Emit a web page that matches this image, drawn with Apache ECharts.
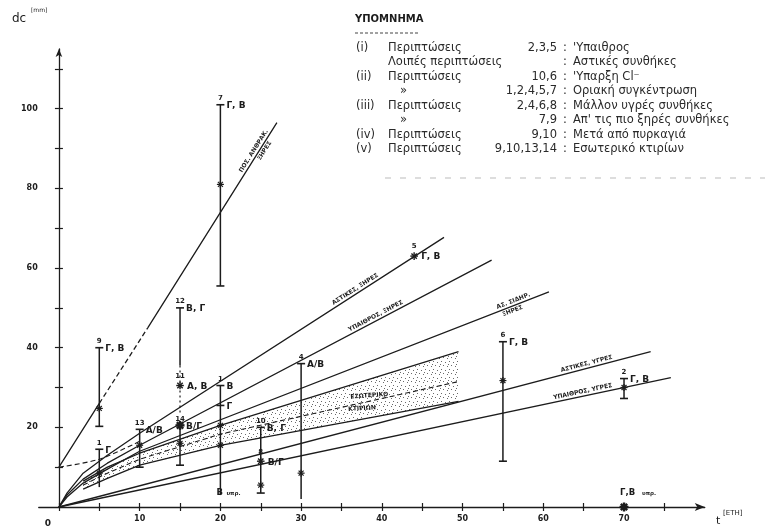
<!DOCTYPE html>
<html><head><meta charset="utf-8">
<script src="https://cdn.jsdelivr.net/npm/echarts@6/dist/echarts.min.js"></script>
<style>html,body{margin:0;padding:0;background:#fff}#c{width:769px;height:528px}</style>
</head><body><div id="c"></div>
<script>
// ---------- axis ticks ----------
const xTicks = [0,5,10,15,20,25,30,35,40,45,50,55,60,65,70,75];
const xTickLabels = [0,10,20,30,40,50,60,70];
const yTicks = [10,20,30,40,50,60,70,80,90,100,110];
const yTickLabels = [20,40,60,80,100];

// ---------- curves [t (years), dc] ----------
const lineSteep     = [[0,10],[5,26],[11,45],[27,96.5]];
const lineUrbanDry  = [[0,0],[1,3.5],[3,8.5],[6,13],[10,18.5],[47.7,67.7]];
const lineOpenDry   = [[0,0],[1,3],[3,7],[6,11],[10,15.5],[53.6,62]];
const lineSDry      = [[0,0],[1,2.5],[3,6],[6,9.5],[10,14],[60.7,54]];
const bandUpper     = [[3,6.5],[6,10],[10,13.5],[20,20.5],[49.5,39]];
const bandMid       = [[3,5.5],[6,8.5],[10,12],[20,18.3],[49.5,31.5]];
const bandLower     = [[3,4.5],[6,7.2],[10,10.5],[20,15.5],[49.5,26.5]];
const lineUrbanWet  = [[0,0],[73.3,39]];
const lineOpenWet   = [[0,0],[75.8,32.5]];
const lineShortDash = [[0,10],[5,12],[10,16.5]];

// ---------- measured cases: [no, t, low, high, capLow, capHigh, dashed, stars, tag] ----------
const cases = [
  ['9', 5, 20.25, 40, true, true, false, [24.75], 'Γ, Β'],
  ['1', 5, 5, 14.5, false, true, false, [8.5], 'Γ'],
  ['13', 10, 10, 19.5, true, true, false, [15.5], 'Α/Β'],
  ['12', 15, 35.5, 50, false, true, false, [], 'Β, Γ'],
  ['14', 15, 10.5, 20.5, true, false, false, [16], 'Β/Γ'],
  ['7', 20, 55.5, 101, true, true, false, [81], 'Γ, Β'],
  ['1', 20, 3, 30.5, false, true, false, [20.5, 15.5], 'Β'],
  ['10', 25, 3.5, 20, true, true, false, [5.5], 'Β, Γ'],
  ['4', 30, 2, 36, false, true, false, [8.5], 'Α/Β'],
  ['6', 55, 11.5, 41.5, true, true, false, [31.75], 'Γ, Β'],
  ['2', 70, 27.25, 32.25, true, true, false, [30], 'Γ, Β']
];
// single marked points: [no, t, dc, tag, bold]
const points = [
  ['5', 44, 63, 'Γ, Β', false],
  ['11', 15, 30.5, 'Α, Β', false],
  ['', 15, 20.5, '', true],
  ['8', 25, 11.5, 'Β/Γ', false],
  ['', 70, 0, '', true]
];
const dashedRanges = [[15, 23, 35.5]];          // [t, low, high]
const extraCaps = [[20, 25.5, 'Γ']];           // [t, dc, tag]
const notes = [[20, 3.5, 'Β υπρ.'], [70, 3.5, 'Γ,Β υπρ.']];

// ---------- line captions: [text, curve, t, side, flat] ----------
const lineLabels = [
  ['ΠΟΣ. ΑΝΘΡΑΚ.', 'steep', 24.6, 1, false],
  ['ΞΗΡΕΣ', 'steep', 25.0, -1, false],
  ['ΑΣΤΙΚΕΣ, ΞΗΡΕΣ', 'urbanDry', 37, 1, false],
  ['ΥΠΑΙΘΡΟΣ, ΞΗΡΕΣ', 'openDry', 39.5, 1, false],
  ['ΑΣ. ΣΙΔΗΡ.', 'sDry', 56.5, 1, false],
  ['ΞΗΡΕΣ', 'sDry', 56.0, -1, false],
  ['ΕΣΩΤΕΡΙΚΟ', 'bandMid', 38.5, 1, true],
  ['ΚΤΙΡΙΩΝ', 'bandMid', 37.5, -1, true],
  ['ΑΣΤΙΚΕΣ, ΥΓΡΕΣ', 'urbanWet', 65.5, 1, false],
  ['ΥΠΑΙΘΡΟΣ, ΥΓΡΕΣ', 'openWet', 65.0, 1, false]
];

// ---------- legend ----------
const legendTitle = 'ΥΠΟΜΝΗΜΑ';
const legendRoman = ['(i)', '', '(ii)', '', '(iii)', '', '(iv)', '(v)'];
const legendLead = ['Περιπτώσεις', 'Λοιπές περιπτώσεις', 'Περιπτώσεις', '»', 'Περιπτώσεις', '»', 'Περιπτώσεις', 'Περιπτώσεις'];
const legendCases = ['2,3,5', '', '10,6', '1,2,4,5,7', '2,4,6,8', '7,9', '9,10', '9,10,13,14'];
const legendDesc = ["'Υπαιθρος", 'Αστικές συνθήκες', "'Υπαρξη Cl⁻", 'Οριακή συγκέντρωση', 'Μάλλον υγρές συνθήκες', "Απ' τις πιο ξηρές συνθήκες", 'Μετά από πυρκαγιά', 'Εσωτερικό κτιρίων'];

const curves = {steep: lineSteep, urbanDry: lineUrbanDry, openDry: lineOpenDry, sDry: lineSDry,
  bandMid: bandMid, urbanWet: lineUrbanWet, openWet: lineOpenWet};

const INK = '#1c1c1c';
const FONT = "'DejaVu Sans', sans-serif";

// stipple pattern
const pat = document.createElement('canvas');
pat.width = 8; pat.height = 8;
(function(){ const g = pat.getContext('2d'); g.fillStyle = '#6a6a6a';
  [[1,1],[5,2],[3,5],[7,6],[0,4]].forEach(p => g.fillRect(p[0], p[1], 1, 1)); })();

const chart = echarts.init(document.getElementById('c'), null, {renderer: 'canvas'});

function lineSeries(data, dashed, w) {
  return {type: 'line', data: data, symbol: 'none', silent: true, smooth: false,
    lineStyle: {color: INK, width: w || 1.3, type: dashed ? [5, 3] : 'solid'}, z: 3};
}

const steepSolid = [lineSteep[0], lineSteep[1], [lineSteep[1][0], null], lineSteep[2], lineSteep[3]];
const steepDash = [lineSteep[1], lineSteep[2]];

function star(cx, cy, r, w) {
  const out = [];
  for (let k = 0; k < 4; k++) {
    const a = k * Math.PI / 4;
    out.push({type: 'line', shape: {x1: cx - r*Math.cos(a), y1: cy - r*Math.sin(a), x2: cx + r*Math.cos(a), y2: cy + r*Math.sin(a)},
      style: {stroke: INK, lineWidth: w}});
  }
  return out;
}
function txt(x, y, s, size, align, va) {
  return {type: 'text', x: x, y: y, style: {text: s, fill: INK, font: 'bold ' + size + 'px ' + FONT,
    textAlign: align || 'left', textVerticalAlign: va || 'middle', align: align || 'left', verticalAlign: va || 'middle'}};
}

const option = {
  animation: false,
  backgroundColor: '#fff',
  grid: {left: 38.75, width: 666, top: 49, height: 460},
  xAxis: [{
    type: 'value', min: -2.5, max: 80,
    axisLine: {show: true, onZero: false, lineStyle: {color: INK, width: 1.3}, symbol: ['none', 'arrow'], symbolSize: [6, 10]},
    axisTick: {show: true, customValues: xTicks, length: 4, lineStyle: {color: INK, width: 1.2}},
    axisLabel: {customValues: xTickLabels, color: INK, fontSize: 8, fontWeight: 'bold', fontFamily: FONT, margin: 8,
      formatter: v => v === 0 ? '{z|0}' : String(v), rich: {z: {fontSize: 9, fontWeight: 'bold', padding: [4, 22, 0, 0]}}},
    splitLine: {show: false}
  }, {
    type: 'value', min: -2.5, max: 80, position: 'bottom',
    axisLine: {show: false}, axisLabel: {show: false}, splitLine: {show: false},
    axisTick: {show: true, inside: true, customValues: xTicks, length: 4, lineStyle: {color: INK, width: 1.2}}
  }],
  yAxis: [{
    type: 'value', min: 0, max: 115,
    axisLine: {show: true, onZero: true, lineStyle: {color: INK, width: 1.3}, symbol: ['none', 'arrow'], symbolSize: [5, 8]},
    axisTick: {show: true, customValues: yTicks, length: 4, lineStyle: {color: INK, width: 1.2}},
    axisLabel: {customValues: yTickLabels, color: INK, fontSize: 8, fontWeight: 'bold', fontFamily: FONT, margin: 1},
    splitLine: {show: false}
  }, {
    type: 'value', min: 0, max: 115, position: 'left',
    axisLine: {show: false, onZero: true}, axisLabel: {show: false}, splitLine: {show: false},
    axisTick: {show: true, inside: true, customValues: yTicks, length: 4, lineStyle: {color: INK, width: 1.2}}
  }],
  series: [
    // stippled band
    {type: 'custom', silent: true, z: 1, data: [0],
      renderItem: function (params, api) {
        const pts = bandUpper.map(p => api.coord(p)).concat(bandLower.slice().reverse().map(p => api.coord(p)));
        return {type: 'polygon', shape: {points: pts}, style: {fill: {image: pat, repeat: 'repeat'}, stroke: null}};
      }},
    Object.assign(lineSeries(steepSolid), {connectNulls: false}),
    lineSeries(steepDash, true),
    lineSeries(lineUrbanDry),
    lineSeries(lineOpenDry),
    lineSeries(lineSDry),
    lineSeries(bandUpper),
    lineSeries(bandMid, true, 1.1),
    lineSeries(bandLower),
    lineSeries(lineUrbanWet),
    lineSeries(lineOpenWet),
    Object.assign(lineSeries(lineShortDash, true, 1.1), {smooth: 0.3}),
    // error bars
    {type: 'custom', silent: true, z: 5, data: cases.map((c, i) => i),
      renderItem: function (params, api) {
        const c = cases[params.dataIndex];
        const top = api.coord([c[1], c[3]]), bot = api.coord([c[1], c[2]]);
        const ch = [];
        ch.push({type: 'line', shape: {x1: top[0], y1: top[1], x2: bot[0], y2: bot[1]},
          style: {stroke: INK, lineWidth: 1.5, lineDash: c[6] ? [3, 3] : null}});
        if (c[5]) ch.push({type: 'line', shape: {x1: top[0] - 4, y1: top[1], x2: top[0] + 4, y2: top[1]}, style: {stroke: INK, lineWidth: 1.6}});
        if (c[4]) ch.push({type: 'line', shape: {x1: bot[0] - 4, y1: bot[1], x2: bot[0] + 4, y2: bot[1]}, style: {stroke: INK, lineWidth: 1.6}});
        c[7].forEach(s => { const p = api.coord([c[1], s]); star(p[0], p[1], 3.5, 1.2).forEach(e => ch.push(e)); });
        ch.push(txt(top[0], top[1] - 3, c[0], 7, 'center', 'bottom'));
        if (c[8]) ch.push(txt(top[0] + 6, top[1] + 1, c[8], 9, 'left', 'middle'));
        return {type: 'group', children: ch};
      }},
    // dashed ranges
    {type: 'custom', silent: true, z: 4, data: dashedRanges.map((d, i) => i),
      renderItem: function (params, api) {
        const d = dashedRanges[params.dataIndex];
        const a = api.coord([d[0], d[2]]), b = api.coord([d[0], d[1]]);
        return {type: 'line', shape: {x1: a[0], y1: a[1], x2: b[0], y2: b[1]}, style: {stroke: INK, lineWidth: 1.2, lineDash: [2, 3]}};
      }},
    // single points
    {type: 'custom', silent: true, z: 6, data: points.map((p, i) => i),
      renderItem: function (params, api) {
        const q = points[params.dataIndex];
        const p = api.coord([q[1], q[2]]);
        const ch = star(p[0], p[1], q[4] ? 4.5 : 3.8, q[4] ? 2.4 : 1.4);
        if (q[0]) ch.push(txt(p[0], p[1] - 6, q[0], 7, 'center', 'bottom'));
        if (q[3]) ch.push(txt(p[0] + 7, p[1] + 1, q[3], 9, 'left', 'middle'));
        return {type: 'group', children: ch};
      }},
    // extra caps
    {type: 'custom', silent: true, z: 6, data: extraCaps.map((p, i) => i),
      renderItem: function (params, api) {
        const q = extraCaps[params.dataIndex];
        const p = api.coord([q[0], q[1]]);
        return {type: 'group', children: [
          {type: 'line', shape: {x1: p[0] - 4, y1: p[1], x2: p[0] + 4, y2: p[1]}, style: {stroke: INK, lineWidth: 1.6}},
          txt(p[0] + 6, p[1] + 1, q[2], 9, 'left', 'middle')]};
      }},
    // notes
    {type: 'custom', silent: true, z: 6, data: notes.map((p, i) => i),
      renderItem: function (params, api) {
        const q = notes[params.dataIndex];
        const p = api.coord([q[0], q[1]]);
        const s = q[2].split(' ');
        return {type: 'group', children: [
          txt(p[0] - 4, p[1], s[0], 8.5, 'left', 'middle'),
          txt(p[0] - 4 + s[0].length * 6 + 4, p[1] + 1, s[1], 5.5, 'left', 'middle')]};
      }}
  ]
};
chart.setOption(option);

// ---------- captions along lines + legend (positions from the chart's scales) ----------
function valAt(arr, t) {
  for (let i = 0; i < arr.length - 1; i++) {
    if (t >= arr[i][0] && t <= arr[i + 1][0]) {
      const f = (t - arr[i][0]) / (arr[i + 1][0] - arr[i][0]);
      return arr[i][1] + f * (arr[i + 1][1] - arr[i][1]);
    }
  }
  return arr[arr.length - 1][1];
}
const graphics = [];
lineLabels.forEach(L => {
  const arr = curves[L[1]];
  const t = L[2];
  const p0 = chart.convertToPixel({xAxisIndex: 0, yAxisIndex: 0}, [t - 1, valAt(arr, t - 1)]);
  const p1 = chart.convertToPixel({xAxisIndex: 0, yAxisIndex: 0}, [t + 1, valAt(arr, t + 1)]);
  const pc = chart.convertToPixel({xAxisIndex: 0, yAxisIndex: 0}, [t, valAt(arr, t)]);
  let ang = Math.atan2(p0[1] - p1[1], p1[0] - p0[0]);
  if (L[4]) ang = ang * 0.3;
  const off = L[4] ? 2.5 : 1.5;
  const nx = -Math.sin(ang) * off * L[3], ny = -Math.cos(ang) * off * L[3];
  graphics.push({type: 'text', x: pc[0] + nx, y: pc[1] + ny, rotation: ang, z: 10, silent: true,
    style: {text: L[0], fill: INK, font: 'bold 6px ' + FONT, textAlign: 'center', align: 'center',
      textVerticalAlign: L[3] > 0 ? 'bottom' : 'top', verticalAlign: L[3] > 0 ? 'bottom' : 'top'}});
});
// axis titles
graphics.push({type: 'text', x: 12, y: 19, style: {text: 'dc', fill: INK, font: '12px ' + FONT, textVerticalAlign: 'middle', verticalAlign: 'middle'}});
graphics.push({type: 'text', x: 31, y: 10, style: {text: '[mm]', fill: INK, font: '6px ' + FONT, textVerticalAlign: 'middle', verticalAlign: 'middle'}});
graphics.push({type: 'text', x: 716, y: 521, style: {text: 't', fill: INK, font: '11px ' + FONT, textVerticalAlign: 'middle', verticalAlign: 'middle'}});
graphics.push({type: 'text', x: 723, y: 513, style: {text: '[ΕΤΗ]', fill: INK, font: '7px ' + FONT, textVerticalAlign: 'middle', verticalAlign: 'middle'}});
// legend
const LG = '11.5px ' + FONT;
graphics.push({type: 'text', x: 355, y: 19, style: {text: legendTitle, fill: INK, font: 'bold 10px ' + FONT, textVerticalAlign: 'middle', verticalAlign: 'middle'}});
graphics.push({type: 'line', shape: {x1: 355, y1: 33, x2: 420, y2: 33}, style: {stroke: '#444', lineWidth: 1, lineDash: [3, 2]}});
graphics.push({type: 'line', shape: {x1: 385, y1: 178, x2: 765, y2: 178}, style: {stroke: '#bbb', lineWidth: 1, lineDash: [6, 9]}});
for (let i = 0; i < legendLead.length; i++) {
  const y = 48 + i * 14.5;
  const st = (s, x, al) => ({type: 'text', x: x, y: y, style: {text: s, fill: '#2a2a2a', font: LG,
    textAlign: al, align: al, textVerticalAlign: 'middle', verticalAlign: 'middle'}});
  if (legendRoman[i]) graphics.push(st(legendRoman[i], 356, 'left'));
  graphics.push(st(legendLead[i], legendLead[i] === '»' ? 400 : 388, 'left'));
  if (legendCases[i]) graphics.push(st(legendCases[i], 557, 'right'));
  graphics.push(st(':', 563, 'left'));
  graphics.push(st(legendDesc[i], 573, 'left'));
}
chart.setOption({graphic: graphics});
</script></body></html>
